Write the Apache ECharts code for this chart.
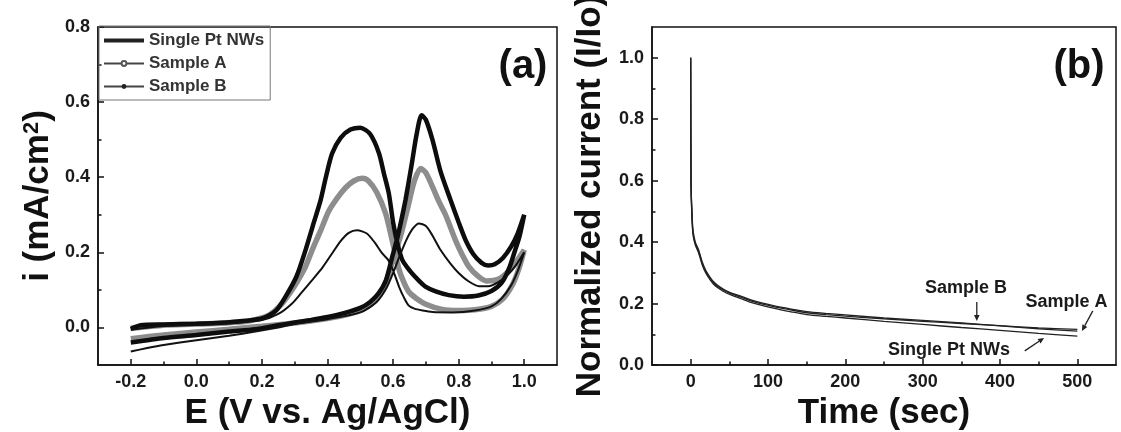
<!DOCTYPE html>
<html>
<head>
<meta charset="utf-8">
<script src="https://cdn.jsdelivr.net/npm/echarts@6/dist/echarts.min.js"></script>
<style>
  html, body { margin: 0; padding: 0; background: #fff; }
  #chart { width: 1121px; height: 432px; }
</style>
</head>
<body>
<div id="chart"></div>
<script>
// (a) cyclic voltammograms, [E (V), i (mA/cm2)], forward scan then backward scan
const cvSingle = [
  [-0.2, -0.040], [-0.15, -0.034], [-0.1, -0.028], [0.0, -0.020], [0.1, -0.011], [0.18, -0.005],
  [0.25, 0.006], [0.3, 0.013], [0.35, 0.020], [0.4, 0.028], [0.45, 0.038], [0.5, 0.052],
  [0.53, 0.068], [0.555, 0.090], [0.578, 0.125], [0.598, 0.19], [0.612, 0.235], [0.625, 0.285],
  [0.638, 0.34], [0.656, 0.43], [0.672, 0.515], [0.687, 0.565], [0.70, 0.553], [0.72, 0.50],
  [0.745, 0.415], [0.775, 0.34], [0.80, 0.28], [0.821, 0.233], [0.845, 0.195], [0.87, 0.172],
  [0.89, 0.165], [0.91, 0.168], [0.935, 0.185], [0.96, 0.215], [0.98, 0.25], [1.0, 0.30],
  [0.985, 0.24], [0.972, 0.205], [0.955, 0.16], [0.932, 0.12], [0.90, 0.097], [0.86, 0.085],
  [0.816, 0.082], [0.77, 0.086], [0.73, 0.096], [0.70, 0.108], [0.675, 0.128], [0.652, 0.15],
  [0.628, 0.18], [0.613, 0.225], [0.60, 0.28], [0.587, 0.357], [0.572, 0.41], [0.557, 0.464],
  [0.53, 0.515], [0.5, 0.532], [0.47, 0.527], [0.44, 0.505], [0.414, 0.463], [0.395, 0.40],
  [0.379, 0.339], [0.355, 0.27], [0.333, 0.206], [0.305, 0.135], [0.272, 0.082], [0.243, 0.045],
  [0.2, 0.024], [0.1, 0.014], [0.0, 0.010], [-0.1, 0.008], [-0.17, 0.006], [-0.2, -0.004]
];
const cvSampleA = [
  [-0.2, -0.030], [-0.15, -0.025], [-0.1, -0.020], [0.0, -0.012], [0.1, -0.005], [0.2, 0.003],
  [0.3, 0.012], [0.4, 0.024], [0.45, 0.032], [0.5, 0.045], [0.53, 0.06], [0.56, 0.09],
  [0.58, 0.125], [0.60, 0.18], [0.625, 0.25], [0.645, 0.32], [0.665, 0.39], [0.684, 0.423],
  [0.70, 0.412], [0.72, 0.375], [0.74, 0.335], [0.76, 0.30], [0.79, 0.233], [0.81, 0.195],
  [0.831, 0.162], [0.86, 0.136], [0.885, 0.124], [0.92, 0.128], [0.95, 0.148], [0.975, 0.174],
  [1.0, 0.206],
  [0.985, 0.16], [0.965, 0.115], [0.935, 0.076], [0.90, 0.056], [0.85, 0.047], [0.80, 0.045],
  [0.75, 0.048], [0.70, 0.062], [0.67, 0.078], [0.648, 0.095], [0.632, 0.122], [0.618, 0.155],
  [0.597, 0.233], [0.577, 0.304], [0.55, 0.36], [0.525, 0.39], [0.506, 0.397], [0.48, 0.39],
  [0.455, 0.372], [0.43, 0.345], [0.404, 0.31], [0.38, 0.26], [0.355, 0.21], [0.333, 0.162],
  [0.31, 0.125], [0.292, 0.10], [0.26, 0.062], [0.22, 0.032], [0.15, 0.016], [0.0, 0.009],
  [-0.1, 0.006], [-0.2, -0.002]
];
const cvSampleB = [
  [-0.2, -0.064], [-0.15, -0.055], [-0.1, -0.047], [0.0, -0.034], [0.1, -0.022], [0.18, -0.011],
  [0.25, 0.0], [0.3, 0.009], [0.4, 0.022], [0.5, 0.04], [0.55, 0.068], [0.58, 0.105],
  [0.60, 0.145], [0.62, 0.19], [0.64, 0.232], [0.66, 0.263], [0.679, 0.277], [0.70, 0.27],
  [0.72, 0.245], [0.745, 0.206], [0.775, 0.17], [0.80, 0.145], [0.83, 0.123], [0.862, 0.11],
  [0.89, 0.11], [0.92, 0.12], [0.95, 0.14], [0.975, 0.166], [1.0, 0.2],
  [0.98, 0.15], [0.96, 0.112], [0.93, 0.076], [0.90, 0.056], [0.85, 0.045], [0.78, 0.04],
  [0.72, 0.041], [0.69, 0.045], [0.665, 0.05], [0.648, 0.058], [0.633, 0.08], [0.618, 0.109],
  [0.60, 0.152], [0.585, 0.18], [0.567, 0.197], [0.545, 0.225], [0.52, 0.25], [0.49, 0.259],
  [0.465, 0.252], [0.44, 0.23], [0.414, 0.197], [0.385, 0.16], [0.353, 0.126], [0.32, 0.092],
  [0.292, 0.064], [0.25, 0.036], [0.2, 0.02], [0.1, 0.011], [0.0, 0.007], [-0.1, 0.004],
  [-0.2, -0.006]
];

// (b) chronoamperometry, normalized current I/Io against time (sec)
const caTime = [0, 0.5, 1.5, 3, 6, 10, 15, 20, 30, 42, 52, 64, 80, 107, 130, 150, 175, 200, 250, 300, 350, 400, 450, 500];
const caSampleA = [1.0, 0.59, 0.50, 0.43, 0.395, 0.372, 0.33, 0.302, 0.266, 0.244, 0.232, 0.222, 0.207, 0.19, 0.179, 0.17, 0.164, 0.159, 0.15, 0.142, 0.135, 0.128, 0.121, 0.116];
const caSampleB = [1.0, 0.59, 0.51, 0.44, 0.40, 0.377, 0.335, 0.306, 0.27, 0.247, 0.235, 0.225, 0.21, 0.193, 0.182, 0.174, 0.168, 0.163, 0.153, 0.145, 0.137, 0.127, 0.118, 0.110];
const caSingle = [1.0, 0.58, 0.49, 0.425, 0.39, 0.367, 0.325, 0.297, 0.262, 0.24, 0.228, 0.217, 0.202, 0.185, 0.173, 0.164, 0.158, 0.153, 0.142, 0.132, 0.122, 0.113, 0.103, 0.094];

// tick values
const cvTicksX = [-0.2, 0, 0.2, 0.4, 0.6, 0.8, 1.0];
const cvMinorX = [-0.1, 0.1, 0.3, 0.5, 0.7, 0.9];
const cvTicksY = [0, 0.2, 0.4, 0.6, 0.8];
const cvMinorY = [0.1, 0.3, 0.5, 0.7];
const caTicksX = [0, 100, 200, 300, 400, 500];
const caMinorX = [50, 150, 250, 350, 450];
const caTicksY = [0, 0.2, 0.4, 0.6, 0.8, 1.0];
const caMinorY = [0.1, 0.3, 0.5, 0.7, 0.9];

const FONT = 'Liberation Sans, Arial, Helvetica, sans-serif';
const INK = '#111';

function mainAxis(grid, pos, min, max, ticks, digits, name, gap) {
  return {
    type: 'value', gridIndex: grid, position: pos, min: min, max: max,
    name: name, nameLocation: 'middle', nameGap: gap,
    nameTextStyle: {
      fontFamily: FONT, fontWeight: 'bold', fontSize: 35, color: INK,
      rich: { sup: { fontFamily: FONT, fontWeight: 'bold', fontSize: 22, color: INK, verticalAlign: 'top', lineHeight: 22 } }
    },
    axisLine: { show: true, onZero: false, lineStyle: { color: INK, width: 1.5 } },
    axisTick: { show: true, inside: true, length: 6, customValues: ticks, lineStyle: { color: INK, width: 1.5 } },
    axisLabel: {
      customValues: ticks, formatter: v => v.toFixed(digits), margin: 8,
      fontFamily: FONT, fontWeight: 'bold', fontSize: 18, color: '#1a1a1a'
    },
    splitLine: { show: false }
  };
}

function minorAxis(grid, pos, min, max, ticks) {
  return {
    type: 'value', gridIndex: grid, position: pos, min: min, max: max,
    axisLine: { show: false, onZero: false },
    axisTick: { show: true, inside: true, length: 3.5, customValues: ticks, lineStyle: { color: INK, width: 1.5 } },
    axisLabel: { show: false },
    splitLine: { show: false }
  };
}

const chart = echarts.init(document.getElementById('chart'));

const option = {
  animation: false,
  backgroundColor: '#fff',
  grid: [
    { left: 98, top: 27, width: 459, height: 338, outerBoundsMode: 'none', containLabel: false,
      show: true, borderColor: INK, borderWidth: 1.5 },
    { left: 652, top: 27, width: 464, height: 338, outerBoundsMode: 'none', containLabel: false,
      show: true, borderColor: INK, borderWidth: 1.5 }
  ],
  xAxis: [
    mainAxis(0, 'bottom', -0.3, 1.1, cvTicksX, 1, 'E (V vs. Ag/AgCl)', 26),
    minorAxis(0, 'bottom', -0.3, 1.1, cvMinorX),
    mainAxis(1, 'bottom', -50, 550, caTicksX, 0, 'Time (sec)', 26),
    minorAxis(1, 'bottom', -50, 550, caMinorX)
  ],
  yAxis: [
    mainAxis(0, 'left', -0.1, 0.8, cvTicksY, 1, 'i (mA/cm{sup|2})', 42),
    minorAxis(0, 'left', -0.1, 0.8, cvMinorY),
    mainAxis(1, 'left', 0, 1.1, caTicksY, 1, 'Normalized current (I/Io)', 44),
    minorAxis(1, 'left', 0, 1.1, caMinorY)
  ],
  legend: {
    orient: 'vertical', left: 99, top: 26,
    padding: [6, 6, 5, 4], itemGap: 6, itemWidth: 40, itemHeight: 6,
    borderColor: '#777', borderWidth: 1,
    textStyle: { fontFamily: FONT, fontWeight: 'bold', fontSize: 17, color: '#333' },
    data: [
      { name: 'Single Pt NWs', icon: 'path://M0,0H40V4H0Z', itemStyle: { color: '#222' } },
      { name: 'Sample A', lineStyle: { color: '#444', width: 2 }, itemStyle: { color: '#555' } },
      { name: 'Sample B', lineStyle: { color: '#444', width: 2 }, itemStyle: { color: '#222' } }
    ]
  },
  series: [
    {
      name: 'Sample A', type: 'line', xAxisIndex: 0, yAxisIndex: 0,
      data: cvSampleA, smooth: 0.25, symbol: 'emptyCircle', showSymbol: false,
      lineStyle: { color: '#8d8d8d', width: 5.5 }, itemStyle: { color: '#8d8d8d' }
    },
    {
      name: 'Single Pt NWs', type: 'line', xAxisIndex: 0, yAxisIndex: 0,
      data: cvSingle, smooth: 0.25, symbol: 'none',
      lineStyle: { color: '#0d0d0d', width: 4.5 }, itemStyle: { color: '#0d0d0d' }
    },
    {
      name: 'Sample B', type: 'line', xAxisIndex: 0, yAxisIndex: 0,
      data: cvSampleB, smooth: 0.25, symbol: 'circle', showSymbol: false,
      lineStyle: { color: '#111', width: 2 }, itemStyle: { color: '#111' }
    },
    {
      type: 'line', xAxisIndex: 2, yAxisIndex: 2, smooth: 0.3, symbol: 'none',
      data: caTime.map((t, k) => [t, caSingle[k]]),
      lineStyle: { color: '#222', width: 1.3 }
    },
    {
      type: 'line', xAxisIndex: 2, yAxisIndex: 2, smooth: 0.3, symbol: 'none',
      data: caTime.map((t, k) => [t, caSampleA[k]]),
      lineStyle: { color: '#222', width: 1.3 }
    },
    {
      type: 'line', xAxisIndex: 2, yAxisIndex: 2, smooth: 0.3, symbol: 'none',
      data: caTime.map((t, k) => [t, caSampleB[k]]),
      lineStyle: { color: '#222', width: 1.3 }
    }
  ]
};

chart.setOption(option);

// panel letters and the arrow labels of panel (b), placed in data coordinates
const notes = [
  { text: 'Sample B', at: [356, 0.251], from: [370, 0.205], to: [370, 0.143] },
  { text: 'Sample A', at: [486, 0.205], from: [520, 0.176], to: [506, 0.111] },
  { text: 'Single Pt NWs', at: [334, 0.049], from: [432, 0.046], to: [457, 0.088] }
];

const px = p => chart.convertToPixel({ xAxisIndex: 2, yAxisIndex: 2 }, p);
const graphics = [
  { type: 'text', style: { text: '(a)', x: 523, y: 67, align: 'center', verticalAlign: 'middle',
    fontFamily: FONT, fontWeight: 'bold', fontSize: 40, fill: INK } },
  { type: 'text', style: { text: '(b)', x: 1079, y: 67, align: 'center', verticalAlign: 'middle',
    fontFamily: FONT, fontWeight: 'bold', fontSize: 40, fill: INK } }
];
notes.forEach(n => {
  const c = px(n.at), a = px(n.from), b = px(n.to);
  const dx = b[0] - a[0], dy = b[1] - a[1];
  const len = Math.sqrt(dx * dx + dy * dy);
  const ux = dx / len, uy = dy / len;
  const hl = 6, hw = 2.8;
  const base = [b[0] - ux * hl, b[1] - uy * hl];
  graphics.push({ type: 'text', style: { text: n.text, x: c[0], y: c[1], align: 'center', verticalAlign: 'middle',
    fontFamily: FONT, fontWeight: 'bold', fontSize: 18, fill: '#1a1a1a' } });
  graphics.push({ type: 'line', shape: { x1: a[0], y1: a[1], x2: base[0], y2: base[1] },
    style: { stroke: '#222', lineWidth: 1.3 } });
  graphics.push({ type: 'polygon', shape: { points: [
    b, [base[0] - uy * hw, base[1] + ux * hw], [base[0] + uy * hw, base[1] - ux * hw]
  ] }, style: { fill: '#222' } });
});
chart.setOption({ graphic: graphics });
</script>
</body>
</html>
